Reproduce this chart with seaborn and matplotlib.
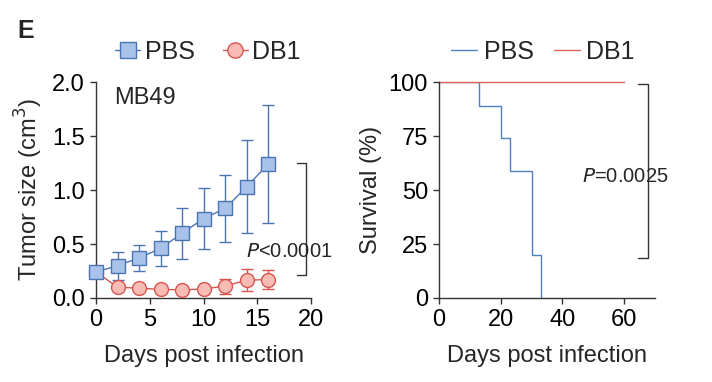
import numpy as np
import pandas as pd
import seaborn as sns
import matplotlib
matplotlib.use('Agg')
import matplotlib.pyplot as plt
from matplotlib.lines import Line2D

# tumor growth (MB49)
days = [0, 2, 4, 6, 8, 10, 12, 14, 16]
pbs_mean = [0.24, 0.30, 0.37, 0.46, 0.60, 0.735, 0.83, 1.03, 1.24]
pbs_err = [0.0, 0.13, 0.12, 0.165, 0.235, 0.28, 0.31, 0.43, 0.545]
db1_mean = [0.24, 0.10, 0.09, 0.08, 0.075, 0.083, 0.11, 0.165, 0.17]
db1_err = [0.0, 0.0, 0.0, 0.0, 0.0, 0.02, 0.07, 0.10, 0.09]

# survival
surv_days_pbs = [0, 13, 20, 23, 30, 33]
surv_pbs = [100, 89, 74, 59, 20, 0]
surv_days_db1 = [0, 60]
surv_db1 = [100, 100]

blue_edge = '#4a74b4'
blue_face = '#a8c2ea'
red_edge = '#d9534f'
red_face = '#f8bcb5'
blue_line = '#4f7fc4'
red_line = '#e0625c'
spine_c = '#333333'

FS = 17

sns.set_theme(style='ticks')
plt.rcParams['font.family'] = ['Liberation Sans', 'DejaVu Sans']
plt.rcParams['axes.edgecolor'] = spine_c
plt.rcParams['xtick.color'] = spine_c
plt.rcParams['ytick.color'] = spine_c
plt.rcParams['xtick.labelcolor'] = 'black'
plt.rcParams['ytick.labelcolor'] = 'black'
plt.rcParams['axes.linewidth'] = 1.0

fig = plt.figure(figsize=(7.12, 3.82), dpi=100)
ax1 = fig.add_axes([0.135, 0.22, 0.302, 0.565])
ax2 = fig.add_axes([0.6166, 0.22, 0.3034, 0.565])

tumor = pd.DataFrame({'day': days * 2,
                      'size': pbs_mean + db1_mean,
                      'err': pbs_err + db1_err,
                      'group': ['PBS'] * len(days) + ['DB1'] * len(days)})

styles = {'PBS': (blue_edge, blue_face, 's', 10),
          'DB1': (red_edge, red_face, 'o', 10)}
for grp in ['DB1', 'PBS']:
    sub = tumor[tumor['group'] == grp]
    ec, fc, mk, ms = styles[grp]
    ax1.errorbar(sub['day'], sub['size'], yerr=sub['err'], fmt='none',
                 ecolor=ec, elinewidth=1.0, capsize=4, capthick=1.0,
                 clip_on=False, zorder=2)
    sns.lineplot(data=sub, x='day', y='size', ax=ax1, color=ec,
                 marker=mk, markersize=ms, markerfacecolor=fc,
                 markeredgecolor=ec, markeredgewidth=1.0, linewidth=1.0,
                 clip_on=False, zorder=3, legend=False)

ax1.set_xlim(0, 20)
ax1.set_ylim(0, 2.0)
ax1.set_xticks([0, 5, 10, 15, 20])
ax1.set_yticks([0, 0.5, 1.0, 1.5, 2.0])
ax1.set_yticklabels(['0.0', '0.5', '1.0', '1.5', '2.0'])
ax1.set_xlabel('Days post infection', fontsize=FS, labelpad=10)
ax1.set_ylabel('Tumor size (cm$^3$)', fontsize=FS, labelpad=5)
ax1.text(1.7, 1.85, 'MB49', fontsize=FS, ha='left', va='center')

# bracket left
ax1.plot([18.7, 19.5, 19.5, 18.7], [1.255, 1.255, 0.215, 0.215],
         color=spine_c, lw=1.0, clip_on=False)
ax1.text(22.0, 0.43, '$\\it{P}$<0.0001', fontsize=14.5, ha='right',
         va='center')

sns.lineplot(x=surv_days_pbs, y=surv_pbs, ax=ax2, color=blue_line,
             drawstyle='steps-post', linewidth=1.0, legend=False)
sns.lineplot(x=surv_days_db1, y=surv_db1, ax=ax2, color=red_line,
             drawstyle='steps-post', linewidth=1.0, legend=False,
             clip_on=False)
ax2.set_xlim(0, 70)
ax2.set_ylim(0, 100)
ax2.set_xticks([0, 20, 40, 60])
ax2.set_yticks([0, 25, 50, 75, 100])
ax2.set_xlabel('Days post infection', fontsize=FS, labelpad=10)
ax2.set_ylabel('Survival (%)', fontsize=FS, labelpad=5)

ax2.plot([64.5, 67.6, 67.6, 64.5], [99, 99, 18.5, 18.5],
         color=spine_c, lw=1.0, clip_on=False)
ax2.text(74.4, 56.5, '$\\it{P}$=0.0025', fontsize=14.5, ha='right',
         va='center')

for ax in (ax1, ax2):
    sns.despine(ax=ax)
    ax.tick_params(axis='both', labelsize=FS, length=4, width=1.0,
                   pad=4)

# legends
h1 = [Line2D([], [], color=blue_edge, marker='s', markersize=11,
             markerfacecolor=blue_face, markeredgecolor=blue_edge, lw=1.0),
      Line2D([], [], color=red_edge, marker='o', markersize=11,
             markerfacecolor=red_face, markeredgecolor=red_edge, lw=1.0)]
fig.legend(h1, ['PBS', 'DB1'], loc='center left',
           bbox_to_anchor=(115 / 712, 1 - 52 / 382), ncol=2, frameon=False,
           fontsize=18, handlelength=1.0, handletextpad=0.2,
           columnspacing=1.1, borderaxespad=0, borderpad=0)
h2 = [Line2D([], [], color=blue_line, lw=1.0),
      Line2D([], [], color=red_line, lw=1.0)]
fig.legend(h2, ['PBS', 'DB1'], loc='center left',
           bbox_to_anchor=(451 / 712, 1 - 52 / 382), ncol=2, frameon=False,
           fontsize=18, handlelength=1.05, handletextpad=0.25,
           columnspacing=0.8, borderaxespad=0, borderpad=0)

fig.text(17 / 712, 1 - 31 / 382, 'E', fontsize=18, fontweight='bold',
         ha='left', va='center')

fig.savefig('out.png', dpi=100)
